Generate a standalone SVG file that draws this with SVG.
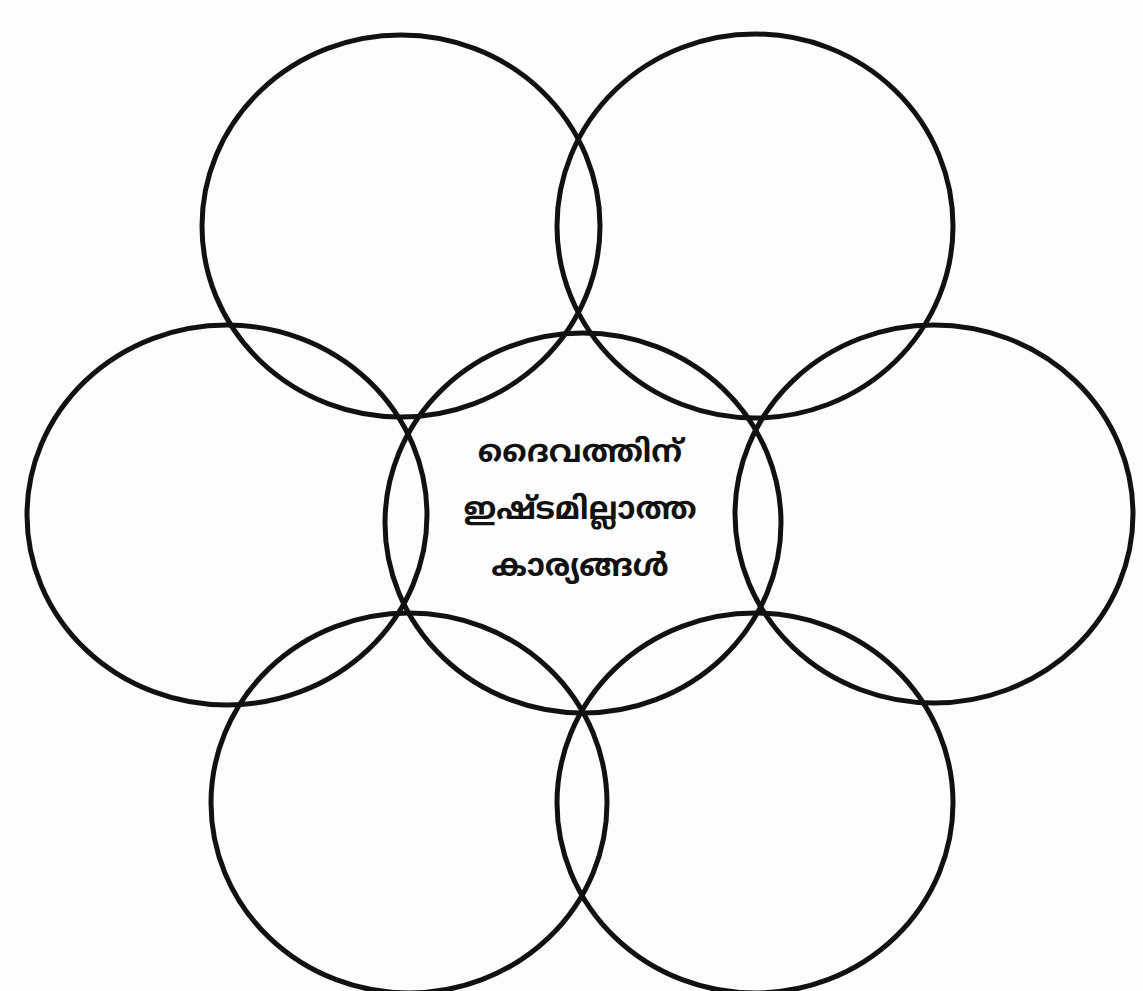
<svg xmlns="http://www.w3.org/2000/svg" width="1143" height="991" viewBox="0 0 1143 991">
<style>
.c{fill:none;stroke:#111;stroke-width:5}
.t{font-family:"Noto Sans Malayalam","Noto Sans","DejaVu Sans",sans-serif;font-size:31px;font-weight:bold;fill:#111;text-anchor:middle}
</style>
<rect width="1143" height="991" fill="#fdfdfd"/>
<g id="circle-top-left"><ellipse class="c" cx="401" cy="226" rx="199" ry="191"/></g>
<g id="circle-top-right"><ellipse class="c" cx="755" cy="226" rx="198" ry="192"/></g>
<g id="circle-mid-left"><ellipse class="c" cx="227" cy="515" rx="200" ry="190"/></g>
<g id="circle-mid-right"><ellipse class="c" cx="934" cy="514" rx="199" ry="189"/></g>
<g id="circle-bottom-left"><ellipse class="c" cx="409" cy="803" rx="198" ry="190"/></g>
<g id="circle-bottom-right"><ellipse class="c" cx="755" cy="803" rx="198" ry="190"/></g>
<g id="circle-center"><ellipse class="c" cx="583" cy="523" rx="198" ry="190"/>
<text class="t" x="580" y="462">ദൈവത്തിന്</text>
<text class="t" x="580" y="519">ഇഷ്ടമില്ലാത്ത</text>
<text class="t" x="580" y="576">കാര്യങ്ങൾ</text>
</g>
<g id="connectors"/>
</svg>
